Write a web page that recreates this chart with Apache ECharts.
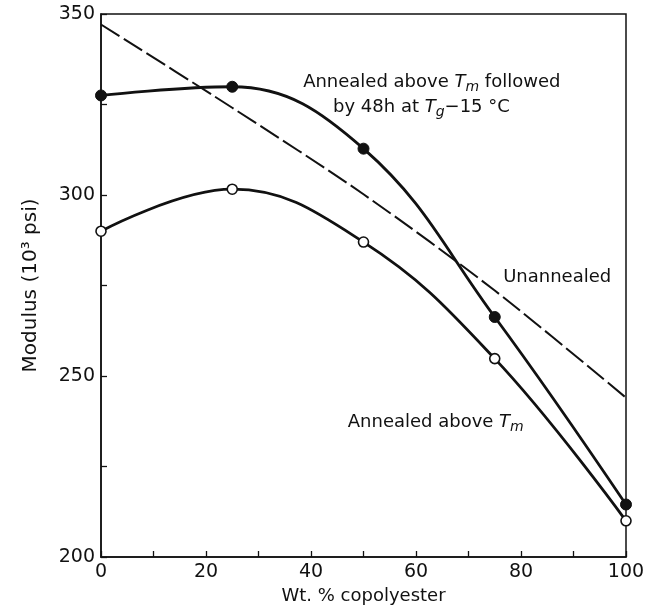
<!DOCTYPE html>
<html>
<head>
<meta charset="utf-8">
<title>Modulus vs copolyester content</title>
<script src="https://cdn.jsdelivr.net/npm/echarts@6/dist/echarts.min.js"></script>
<style>
  html, body { margin: 0; padding: 0; background: #fff; }
  #chart { width: 657px; height: 611px; }
</style>
</head>
<body>
<div id="chart"></div>
<script>
// Composition, wt.% copolyester
const composition = [0, 25, 50, 75, 100];

// Modulus, 10^3 psi
const annealedPlusAged = [327.5, 329.9, 312.8, 266.3, 214.5]; // annealed above Tm, then 48 h at Tg-15 °C
const annealedOnly     = [290.0, 301.6, 287.0, 254.8, 210.0]; // annealed above Tm
const unannealed       = [347.1, 324.1, 300.2, 273.6, 244.0]; // unannealed (no markers)

// Axis labels
const xTickLabels = [0, 20, 40, 60, 80, 100];
const yTickLabels = [200, 250, 300, 350];

const FONT = '"DejaVu Sans", sans-serif';
const INK = '#111';

const pairs = ys => composition.map((x, i) => [x, ys[i]]);

const chart = echarts.init(document.getElementById('chart'), null, { renderer: 'canvas' });

chart.setOption({
  animation: false,
  backgroundColor: '#fff',
  grid: {
    left: 101, right: 31, top: 14, bottom: 54,
    show: true, borderColor: INK, borderWidth: 1.5, backgroundColor: 'transparent'
  },
  xAxis: {
    type: 'value', min: 0, max: 100, interval: 10,
    name: 'Wt. % copolyester', nameLocation: 'middle', nameGap: 23,
    nameTextStyle: { fontFamily: FONT, fontSize: 18, color: INK },
    axisLine: { show: true, onZero: false, lineStyle: { color: INK, width: 1.5 } },
    axisTick: { show: true, inside: true, length: 6, lineStyle: { color: INK, width: 1.3 } },
    axisLabel: {
      margin: 6, fontFamily: FONT, fontSize: 19, color: INK,
      formatter: v => (xTickLabels.includes(v) ? String(v) : '')
    },
    splitLine: { show: false }
  },
  yAxis: {
    type: 'value', min: 200, max: 350, interval: 25,
    name: 'Modulus (10³ psi)', nameLocation: 'middle', nameGap: 60, nameRotate: 90,
    nameTextStyle: { fontFamily: FONT, fontSize: 20, color: INK },
    axisLine: { show: true, onZero: false, lineStyle: { color: INK, width: 1.5 } },
    axisTick: { show: true, inside: true, length: 6, lineStyle: { color: INK, width: 1.3 } },
    axisLabel: {
      margin: 6, fontFamily: FONT, fontSize: 19, color: INK,
      formatter: v => (yTickLabels.includes(v) ? String(v) : '')
    },
    splitLine: { show: false }
  },
  series: [
    {
      name: 'Unannealed', type: 'line', data: pairs(unannealed),
      smooth: 0.3, showSymbol: false, symbol: 'none',
      lineStyle: { color: INK, width: 2, type: [22, 5] }, z: 2
    },
    {
      name: 'Annealed above Tm followed by 48h at Tg-15 °C', type: 'line', data: pairs(annealedPlusAged),
      smooth: 0.4, symbol: 'circle', symbolSize: 11,
      itemStyle: { color: INK, borderColor: INK, borderWidth: 1 },
      lineStyle: { color: INK, width: 2.8 }, z: 3
    },
    {
      name: 'Annealed above Tm', type: 'line', data: pairs(annealedOnly),
      smooth: 0.4, symbol: 'circle', symbolSize: 10,
      itemStyle: { color: '#fff', borderColor: INK, borderWidth: 1.6 },
      lineStyle: { color: INK, width: 2.8 }, z: 3
    }
  ]
});

// Curve annotations, anchored in data coordinates
const rich = {
  t:   { fontFamily: FONT, fontSize: 18, color: INK },
  it:  { fontFamily: FONT, fontSize: 18, color: INK, fontStyle: 'italic' },
  sub: { fontFamily: FONT, fontSize: 14, color: INK, fontStyle: 'italic', padding: [10, 0, 0, 0] }
};
const notes = [
  { at: [38.5, 331.1], text: '{t|Annealed above }{it|T}{sub|m}{t| followed}' },
  { at: [44.2, 324.2], text: '{t|by 48h at }{it|T}{sub|g}{t|−15 °C}' },
  { at: [76.6, 277.3], text: '{t|Unannealed}' },
  { at: [47.0, 237.3], text: '{t|Annealed above }{it|T}{sub|m}' }
];
chart.setOption({
  graphic: notes.map(n => {
    const p = chart.convertToPixel({ gridIndex: 0 }, n.at);
    return {
      type: 'text', x: p[0], y: p[1], z: 10,
      style: { text: n.text, rich, verticalAlign: 'middle', align: 'left', fill: INK }
    };
  })
});
</script>
</body>
</html>
